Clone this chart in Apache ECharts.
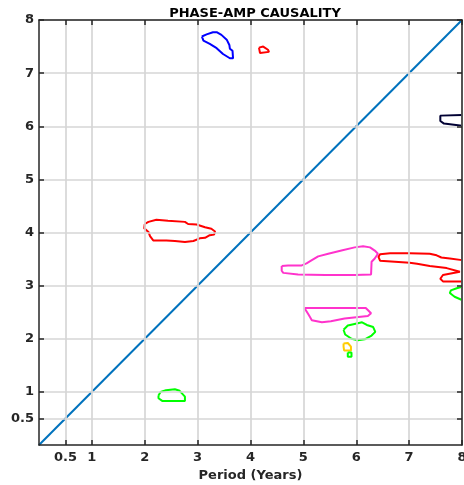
<!DOCTYPE html>
<html><head><meta charset="utf-8">
<script src="https://cdn.jsdelivr.net/npm/echarts@6/dist/echarts.min.js"></script>
<style>html,body{margin:0;padding:0;background:#fff}#c{width:464px;height:485px}</style>
</head><body><div id="c"></div>
<script>
const titleText = 'PHASE-AMP CAUSALITY';
const xName = 'Period (Years)';
const xTicks = [0.5, 1, 2, 3, 4, 5, 6, 7, 8];
const yTicks = [0.5, 1, 2, 3, 4, 5, 6, 7, 8];
const diagonal = [[0, 0], [8, 8]];

const blueContour = [[3.08,7.69],[3.17,7.73],[3.29,7.77],[3.36,7.77],[3.45,7.72],[3.55,7.63],[3.60,7.53],[3.61,7.46],[3.66,7.42],[3.67,7.28],[3.61,7.28],[3.48,7.36],[3.36,7.47],[3.23,7.55],[3.11,7.61],[3.08,7.64],[3.08,7.69]];
const redSmall = [[4.16,7.48],[4.24,7.50],[4.33,7.44],[4.35,7.40],[4.18,7.38],[4.16,7.48]];
const navyContour = [[8.0,6.21],[7.59,6.20],[7.59,6.10],[7.66,6.05],[8.0,6.01]];
const redLeft = [[2.00,4.16],[2.07,4.20],[2.22,4.24],[2.44,4.22],[2.76,4.20],[2.82,4.16],[2.98,4.15],[3.01,4.12],[3.14,4.10],[3.26,4.07],[3.33,4.02],[3.31,3.96],[3.23,3.95],[3.14,3.90],[3.04,3.89],[2.92,3.84],[2.76,3.82],[2.57,3.84],[2.41,3.85],[2.16,3.85],[2.10,3.93],[2.07,4.01],[1.99,4.08],[2.00,4.16]];
const magentaUpper = [[4.59,3.37],[4.71,3.38],[4.97,3.38],[5.06,3.42],[5.16,3.48],[5.28,3.55],[5.47,3.60],[5.72,3.66],[5.97,3.72],[6.13,3.74],[6.26,3.72],[6.35,3.66],[6.41,3.60],[6.35,3.51],[6.29,3.45],[6.28,3.21],[5.97,3.20],[5.41,3.20],[4.90,3.21],[4.62,3.24],[4.59,3.28],[4.59,3.37]];
const redRight = [[8.0,3.48],[7.77,3.51],[7.61,3.53],[7.52,3.57],[7.39,3.60],[7.01,3.61],[6.64,3.61],[6.45,3.59],[6.42,3.54],[6.45,3.47],[6.73,3.45],[7.01,3.43],[7.15,3.41],[7.39,3.37],[7.71,3.33],[7.96,3.26],[7.64,3.20],[7.59,3.13],[7.64,3.08],[8.0,3.08]];
const magentaLower = [[5.02,2.58],[6.18,2.58],[6.28,2.48],[6.22,2.43],[5.78,2.38],[5.52,2.33],[5.35,2.31],[5.16,2.35],[5.10,2.45],[5.02,2.58]];
const greenMid = [[5.76,2.17],[5.84,2.25],[6.03,2.29],[6.11,2.31],[6.20,2.26],[6.32,2.22],[6.36,2.13],[6.29,2.06],[6.16,1.99],[6.03,1.97],[5.91,2.00],[5.79,2.08],[5.76,2.17]];
const yellowSmall = [[5.76,1.91],[5.84,1.92],[5.90,1.85],[5.90,1.78],[5.77,1.78],[5.76,1.85],[5.76,1.91]];
const greenSquare = [[5.84,1.74],[5.91,1.74],[5.91,1.66],[5.84,1.66],[5.84,1.74]];
const greenRight = [[8.0,2.98],[7.90,2.95],[7.79,2.91],[7.77,2.86],[7.86,2.79],[8.0,2.73]];
const greenBottom = [[2.26,0.93],[2.30,1.00],[2.40,1.03],[2.57,1.05],[2.66,1.02],[2.76,0.91],[2.76,0.83],[2.33,0.83],[2.26,0.88],[2.26,0.93]];

const contours = [
  [blueContour, '#0000ff'],
  [redSmall, '#ff0000'],
  [navyContour, '#000033'],
  [redLeft, '#ff0000'],
  [magentaUpper, '#ff33cc'],
  [redRight, '#ff0000'],
  [magentaLower, '#ff33cc'],
  [greenMid, '#00ff00'],
  [yellowSmall, '#ffcc00'],
  [greenSquare, '#00ff00'],
  [greenRight, '#00ff00'],
  [greenBottom, '#00ff00']
];

const dark = '#262626';
const font = 'DejaVu Sans';
function mkAxis(pos, ticks, showLabel, name, margin) {
  const a = {
    type: 'value', position: pos, min: 0, max: 8, z: 10,
    axisLine: {show: true, onZero: false, lineStyle: {color: dark, width: 1.5}},
    axisTick: {show: true, inside: true, length: 5, customValues: ticks, lineStyle: {color: dark, width: 1.5}},
    axisLabel: {show: showLabel, customValues: ticks, color: dark, fontWeight: 'bold', fontSize: 13, fontFamily: font, margin: margin || 7},
    splitLine: {show: false}
  };
  if (name) {
    a.name = name; a.nameLocation = 'middle'; a.nameGap = 16;
    a.nameTextStyle = {color: dark, fontWeight: 'bold', fontSize: 13, fontFamily: font};
  }
  return a;
}

const chart = echarts.init(document.getElementById('c'), null, {renderer: 'canvas'});
const series = [{
  type: 'line', data: [], silent: true, z: 1,
  markLine: {
    silent: true, symbol: 'none', animation: false, label: {show: false},
    lineStyle: {color: '#d6d6d6', width: 1.7, type: 'solid'},
    data: xTicks.map(v => ({xAxis: v})).concat(yTicks.map(v => ({yAxis: v})))
  }
}, {
  type: 'line', data: diagonal, showSymbol: false, symbol: 'none',
  lineStyle: {color: '#0072bd', width: 2}, z: 3
}];
contours.forEach(([d, c]) => series.push({
  type: 'line', data: d, showSymbol: false, symbol: 'none', clip: true,
  lineStyle: {color: c, width: 2}, z: 4
}));

chart.setOption({
  animation: false,
  backgroundColor: '#ffffff',
  title: {text: titleText, left: 250, textAlign: 'center', top: 2,
    textStyle: {color: '#000', fontWeight: 'bold', fontSize: 13, fontFamily: font}},
  grid: {left: 39, right: 2, top: 20, bottom: 40, containLabel: false, outerBoundsMode: 'none'},
  xAxis: [mkAxis('bottom', xTicks, true, xName, 6), mkAxis('top', xTicks, false)],
  yAxis: [mkAxis('left', yTicks, true, null, 5), mkAxis('right', yTicks, false)],
  series: series
});
</script></body></html>
